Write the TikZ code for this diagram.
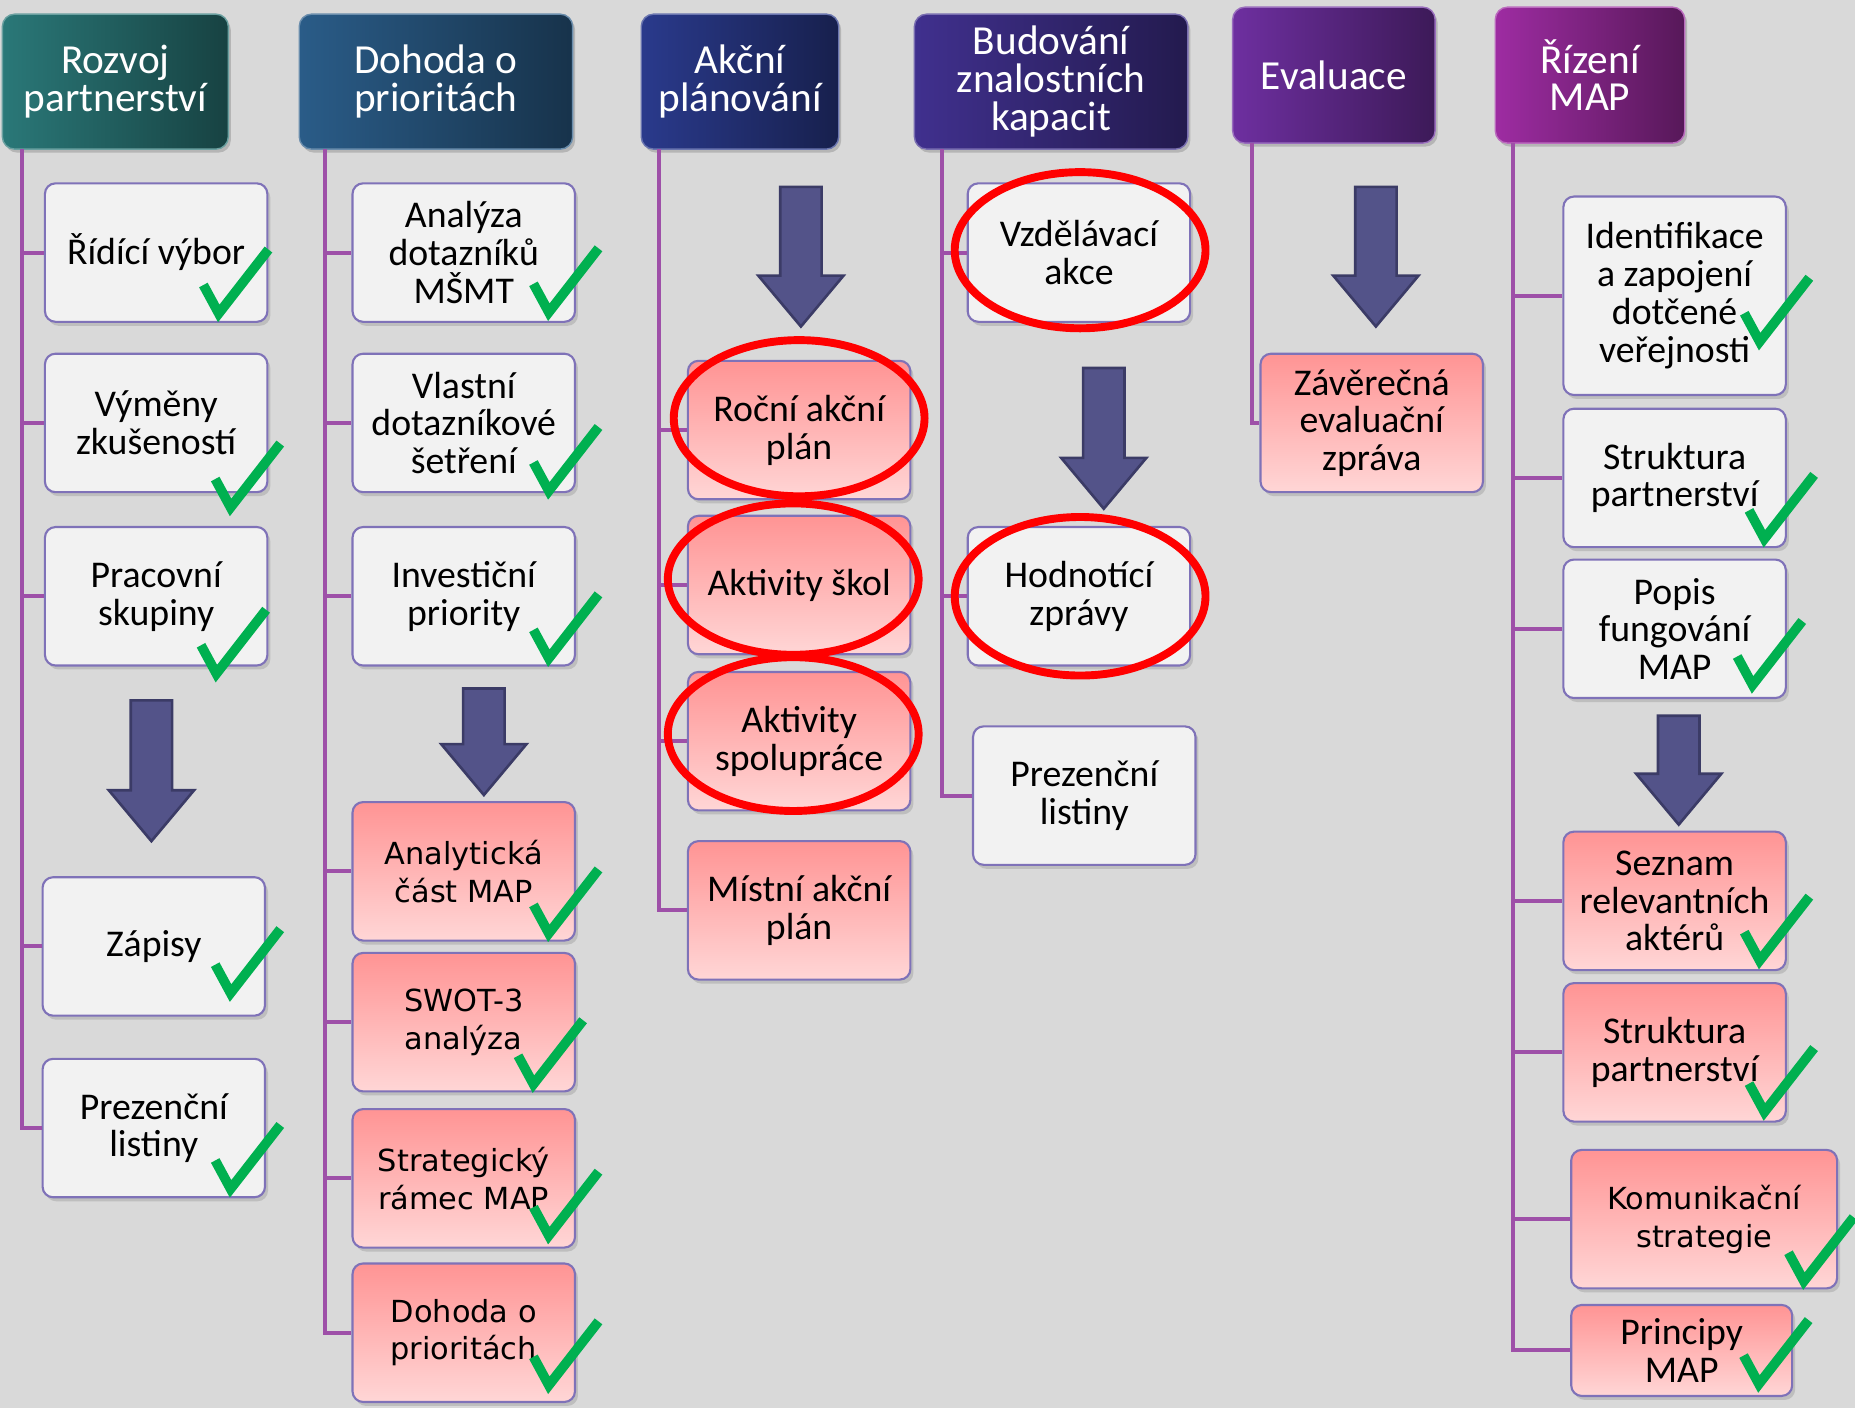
\documentclass[tikz,border=0pt]{standalone}
\usepackage{fontspec}
\setmainfont{Carlito}
\newfontfamily\widefont{DejaVu Sans}
\usetikzlibrary{shadows}

\definecolor{bggray}{HTML}{D9D9D9}
\definecolor{linkc}{HTML}{9E50A8}
\definecolor{boxwhite}{HTML}{F2F2F2}
\definecolor{boxedge}{HTML}{7F72B8}
\definecolor{pinktop}{HTML}{FF9494}
\definecolor{pinkbot}{HTML}{FFD6D6}
\definecolor{arrowc}{HTML}{535389}
\definecolor{arrowedge}{HTML}{3B3B66}
\definecolor{tickc}{HTML}{00B050}
\definecolor{rozvojc}{HTML}{2A7878}
\definecolor{dohodac}{HTML}{2A5C88}
\definecolor{akcnic}{HTML}{2A3A8C}
\definecolor{budovanic}{HTML}{40308E}
\definecolor{evaluacec}{HTML}{6E2FA0}
\definecolor{rizenic}{HTML}{9E2CA2}

% big block arrow: centre x, top y, tip y
\newcommand{\blockarrow}[3]{%
  \draw[bigarrow] (#1-17.5,#2) -- (#1+17.5,#2) -- (#1+17.5,#3-43) -- (#1+36,#3-43)
    -- (#1,#3) -- (#1-36,#3-43) -- (#1-17.5,#3-43) -- cycle;}

\begin{document}
\begin{tikzpicture}[x=0.02366cm, y=-0.02366cm,
    head/.style={rounded corners=7pt, minimum height=2.70cm, align=center, text=white,
      font=\fontsize{23.5}{21.5}\selectfont, left color=#1, right color=#1!55!black,
      draw=#1!70!white, line width=0.8pt,
      drop shadow={opacity=0.4, shadow xshift=0.05cm, shadow yshift=-0.07cm}},
    box/.style={rounded corners=6pt, draw=boxedge, line width=1.2pt,
      minimum width=4.45cm, minimum height=2.77cm, align=center, inner sep=2pt,
      font=\fontsize{21.5}{21.5}\selectfont,
      drop shadow={opacity=0.3, shadow xshift=0.06cm, shadow yshift=-0.08cm}},
    whitebox/.style={box, fill=boxwhite},
    pinkbox/.style={box, top color=pinktop, bottom color=pinkbot},
    wide/.style={font=\widefont\fontsize{17.3}{21.5}\selectfont},
    link/.style={draw=linkc, line width=2.3pt},
    bigarrow/.style={fill=arrowc, draw=arrowedge, line width=1.5pt},
    ring/.style={draw=red, line width=4.5pt},
    tickline/.style={draw=tickc, line width=5.5pt, line join=miter},
    tick/.pic={\draw[tickline] (-13,-24) -- (0,0) -- (42,-54);}]

    % background and picture size
    \fill[bggray] (0,0) rectangle (1568,1190);
    \useasboundingbox (0,0) rectangle (1568,1190);

    % Headers
    \node[head=rozvojc, minimum width=4.52cm] (rozvoj) at (97.5,69) {Rozvoj\\partnerství};
    \node[head=dohodac, minimum width=5.47cm] (dohoda) at (368.5,69) {Dohoda o\\prioritách};
    \node[head=akcnic, minimum width=3.95cm] (akcni) at (625.5,69) {Akční\\plánování};
    \node[head=budovanic, minimum width=5.47cm] (budovani) at (888.5,69) {Budování\\znalostních\\kapacit};
    \node[head=evaluacec, minimum width=4.05cm, minimum height=2.72cm] (evaluace) at (1127.5,63.5) {Evaluace};
    \node[head=rizenic, minimum width=3.79cm, minimum height=2.72cm] (rizeni) at (1344,63.5) {Řízení\\MAP};

    % Rozvoj partnerství
    \node[whitebox] (ridici) at (132,213.5) {Řídící výbor};
    \node[whitebox] (vymeny) at (132,357.5) {Výměny\\zkušeností};
    \node[whitebox] (pracovni) at (132,504) {Pracovní\\skupiny};
    \node[whitebox] (zapisy) at (130,800) {Zápisy};
    \node[whitebox] (prezence) at (130,953.5) {Prezenční\\listiny};

    % Dohoda o prioritách
    \node[whitebox] (analyza) at (392,213.5) {Analýza\\dotazníků\\MŠMT};
    \node[whitebox] (vlastni) at (392,357.5) {Vlastní\\dotazníkové\\šetření};
    \node[whitebox] (investicni) at (392,504) {Investiční\\priority};
    \node[pinkbox, wide] (analyticka) at (392,736.5) {Analytická\\část MAP};
    \node[pinkbox, wide] (swot) at (392,864) {SWOT-3\\analýza};
    \node[pinkbox, wide] (ramec) at (392,996) {Strategický\\rámec MAP};
    \node[pinkbox, wide] (dohodamap) at (392,1126.5) {Dohoda o\\prioritách};

    % Akční plánování
    \node[pinkbox] (rocni) at (675.5,363.5) {Roční akční\\plán};
    \node[pinkbox] (skoly) at (675.5,494.5) {Aktivity škol};
    \node[pinkbox] (spoluprace) at (675.5,626.5) {Aktivity\\spolupráce};
    \node[pinkbox] (mistni) at (675.5,769.5) {Místní akční\\plán};

    % Budování znalostních kapacit
    \node[whitebox] (vzdelavani) at (912,213.5) {Vzdělávací\\akce};
    \node[whitebox] (hodnotici) at (912,504) {Hodnotící\\zprávy};
    \node[whitebox] (listiny) at (916.5,672.5) {Prezenční\\listiny};

    % Evaluace
    \node[pinkbox] (zaverecna) at (1159.5,357.5) {Závěrečná\\evaluační\\zpráva};

    % Řízení MAP
    \node[whitebox, minimum height=3.97cm] (identifikace) at (1415.5,250) {Identifikace\\a zapojení\\dotčené\\veřejnosti};
    \node[whitebox] (struktura) at (1415.5,404) {Struktura\\partnerství};
    \node[whitebox] (popis) at (1415.5,531.5) {Popis\\fungování\\MAP};
    \node[pinkbox] (seznam) at (1415.5,761.5) {Seznam\\relevantních\\aktérů};
    \node[pinkbox] (strukturab) at (1415.5,889.5) {Struktura\\partnerství};
    \node[pinkbox, wide, minimum width=5.32cm] (komunikace) at (1440.5,1030.5) {Komunikační\\strategie};
    \node[pinkbox, minimum height=1.82cm, minimum width=4.42cm] (principy) at (1421.5,1141.5) {Principy\\MAP};

    % tree lines from each header
    \coordinate (rozvojroot) at (19,126);
    \coordinate (dohodaroot) at (275,126);
    \coordinate (akcniroot) at (557,126);
    \coordinate (budovaniroot) at (796,126);
    \coordinate (evaluaceroot) at (1058,121);
    \coordinate (rizeniroot) at (1279,121);
    \draw[link] (rozvojroot) |- (ridici.west) (rozvojroot) |- (vymeny.west) (rozvojroot) |- (pracovni.west)
      (rozvojroot) |- (zapisy.west) (rozvojroot) |- (prezence.west);
    \draw[link] (dohodaroot) |- (analyza.west) (dohodaroot) |- (vlastni.west) (dohodaroot) |- (investicni.west)
      (dohodaroot) |- (analyticka.west) (dohodaroot) |- (swot.west) (dohodaroot) |- (ramec.west)
      (dohodaroot) |- (dohodamap.west);
    \draw[link] (akcniroot) |- (rocni.west) (akcniroot) |- (skoly.west) (akcniroot) |- (spoluprace.west)
      (akcniroot) |- (mistni.west);
    \draw[link] (budovaniroot) |- (vzdelavani.west) (budovaniroot) |- (hodnotici.west)
      (budovaniroot) |- (listiny.west);
    \draw[link] (evaluaceroot) |- (zaverecna.west);
    \draw[link] (rizeniroot) |- (identifikace.west) (rizeniroot) |- (struktura.west) (rizeniroot) |- (popis.west)
      (rizeniroot) |- (seznam.west) (rizeniroot) |- (strukturab.west) (rizeniroot) |- (komunikace.west)
      (rizeniroot) |- (principy.west);

    % big arrows
    \blockarrow{128}{592}{711}
    \blockarrow{409}{582}{672}
    \blockarrow{677}{158}{276}
    \blockarrow{933}{311}{430}
    \blockarrow{1163}{158}{276}
    \blockarrow{1419}{605}{697}

    % ticks
    \pic at ([shift={(-42,-8)}]ridici.south east) {tick};
    \pic at ([shift={(-32,12)}]vymeny.south east) {tick};
    \pic at ([shift={(-44,6)}]pracovni.south east) {tick};
    \pic at ([shift={(-30,-20)}]zapisy.south east) {tick};
    \pic at ([shift={(-30,-8)}]prezence.south east) {tick};
    \pic at ([shift={(-23,-9)}]analyza.south east) {tick};
    \pic at ([shift={(-23,-2)}]vlastni.south east) {tick};
    \pic at ([shift={(-23,-7)}]investicni.south east) {tick};
    \pic at ([shift={(-23,-7)}]analyticka.south east) {tick};
    \pic at ([shift={(-36,-7)}]swot.south east) {tick};
    \pic at ([shift={(-23,-11)}]ramec.south east) {tick};
    \pic at ([shift={(-23,-15)}]dohodamap.south east) {tick};
    \pic at ([shift={(-23,-46)}]identifikace.south east) {tick};
    \pic at ([shift={(-19,-8)}]struktura.south east) {tick};
    \pic at ([shift={(-29,-12)}]popis.south east) {tick};
    \pic at ([shift={(-23,-9)}]seznam.south east) {tick};
    \pic at ([shift={(-19,-9)}]strukturab.south east) {tick};
    \pic at ([shift={(-29,-7)}]komunikace.south east) {tick};
    \pic at ([shift={(-29,-11)}]principy.south east) {tick};

    % red rings
    \draw[ring] ([shift={(0,-10)}]rocni.center) ellipse [x radius=106, y radius=66];
    \draw[ring] ([shift={(-5,-5)}]skoly.center) ellipse [x radius=106, y radius=64];
    \draw[ring] ([shift={(-5,-6)}]spoluprace.center) ellipse [x radius=106, y radius=65];
    \draw[ring] ([shift={(1,-2)}]vzdelavani.center) ellipse [x radius=106, y radius=66];
    \draw[ring] ([shift={(1,0)}]hodnotici.center) ellipse [x radius=106, y radius=67];
\end{tikzpicture}
\end{document}
